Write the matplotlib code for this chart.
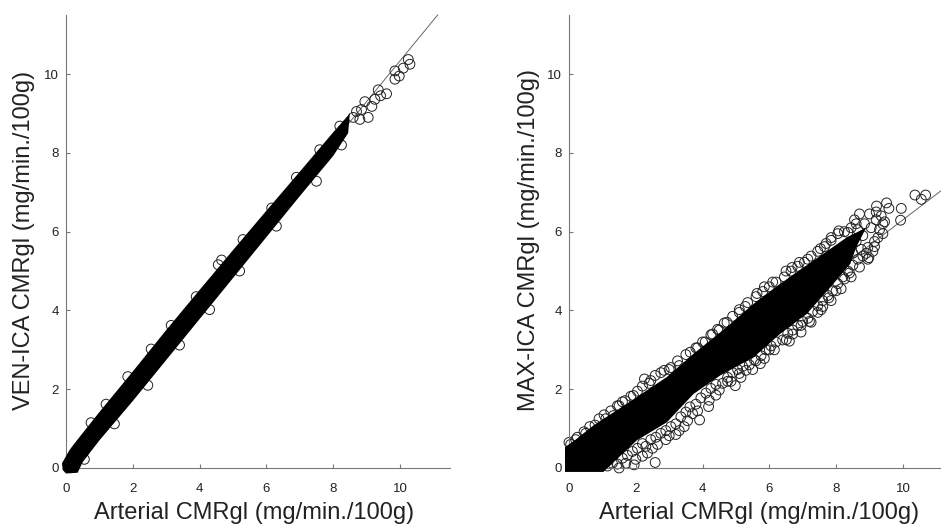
import matplotlib
matplotlib.use('Agg')
import matplotlib.pyplot as plt

plt.rcParams['font.family'] = ['Liberation Sans', 'DejaVu Sans']

ticks = [0, 2, 4, 6, 8, 10]
xlabel = 'Arterial CMRgl (mg/min./100g)'
ylabel_left = 'VEN-ICA CMRgl (mg/min./100g)'
ylabel_right = 'MAX-ICA CMRgl (mg/min./100g)'

# fit lines, read at both ends
line_x_left = [0, 11.13]
line_y_left = [0, 11.5]
line_x_right = [8.5, 11.5]
line_y_right = [5.33, 7.27]

# outline of the solid black part of each cloud
core_x_left = [-0.12, 0.1, 0.25, 1, 2, 3, 4, 5, 6, 7, 8, 8.5, 8.45, 8, 7, 6, 5, 4, 3, 2, 1, 0.5, 0.35, 0.0, -0.1]
core_y_left = [0.12, 0.45, 0.62, 1.42, 2.45, 3.5, 4.52, 5.53, 6.53, 7.52, 8.52, 9.0, 8.5, 7.92, 6.9, 5.86, 4.82, 3.78, 2.74, 1.7, 0.7, 0.15, -0.12, -0.14, -0.05]

core_x_right = [-0.12, -0.12, 0.2, 0.73, 1.73, 2.93, 3.73, 4.73, 5.53, 6.33, 7.33, 8.33, 8.9,
                8.6, 8.43, 7.83, 7.13, 6.33, 5.53, 4.53, 3.73, 2.93, 2.03, 1.03]
core_y_right = [-0.1, 0.53, 0.72, 1.08, 1.63, 2.31, 2.9, 3.58, 4.17, 4.68, 5.27, 5.86, 6.1,
                5.6, 5.19, 4.59, 3.92, 3.41, 2.81, 2.35, 1.88, 1.16, 0.7, -0.1]

# single circles visible around the clouds
pts_x_left = [10.25, 10.3, 10.1, 9.85, 9.85, 9.98, 9.35, 9.6, 9.25, 9.42, 8.85, 9.05, 9.16, 8.95, 8.7, 8.8, 8.6,
              0.75, 1.2, 1.85, 2.55, 3.15, 3.9, 4.66, 4.56, 5.3, 6.16, 6.9, 7.6, 8.2,
              0.55, 1.45, 2.45, 3.4, 4.3, 5.2, 6.3, 7.5, 8.25]
pts_y_left = [10.37, 10.25, 10.15, 10.08, 9.87, 9.95, 9.6, 9.5, 9.36, 9.45, 9.1, 8.9, 9.18, 9.3, 9.05, 8.85, 8.9,
              1.15, 1.62, 2.32, 3.02, 3.62, 4.35, 5.28, 5.16, 5.8, 6.6, 7.38, 8.08, 8.68,
              0.22, 1.12, 2.1, 3.12, 4.02, 5.0, 6.14, 7.28, 8.2]

pts_x_right = [2.58, 1.95, 2.2, 1.7, 3.91, 3.2, 3.45, 2.9, 2.5, 4.18, 4.4, 3.7, 4.98, 4.75, 5.3, 5.73, 5.55, 5.1,
               6.0, 6.51, 6.7, 6.95, 7.2, 7.45, 7.78, 7.6, 8.0, 8.25, 8.4, 8.98, 9.15, 9.93, 9.95, 10.36, 10.55,
               10.68, 9.51, 9.21, 9.58, 9.35, 9.45, 8.08, 8.35, 7.53, 7.7, 7.85, 6.68, 6.5, 6.9, 7.15, 5.63, 5.85,
               6.1, 5.28, 5.1, 4.73, 4.5, 4.3, 4.08, 3.63, 3.85, 3.3, 3.0, 2.58, 2.85, 2.26, 2.4, 1.93, 1.68, 1.5,
               1.33, 1.1, 0.78, 0.5, 0.2, 0.0, 8.55, 8.7, 8.85, 9.0, 9.2, 9.3, 9.4, 8.6, 8.8, 9.05, 9.25, 9.4, 8.95,
               9.15, 8.75, 8.9, 9.1, 8.5, 8.65, 9.2,
               # lower fringe
               1.15, 1.3, 1.45, 1.6, 1.75, 1.9, 2.05, 2.2, 2.3, 2.45, 2.6, 2.75, 2.9, 3.05, 3.2, 3.35, 3.5, 3.62,
               3.8, 3.95, 4.1, 4.25, 4.4, 4.6, 4.75, 4.9, 5.05, 5.2, 5.4, 5.6, 5.75, 5.9, 6.05, 6.2, 6.4, 6.55,
               6.7, 6.85, 7.0, 7.15, 7.3, 7.45, 7.6, 7.75, 7.9, 8.05, 8.2, 8.35, 8.5, 8.65, 8.8,
               # second lower row
               1.5, 2.0, 2.35, 2.65, 3.0, 3.3, 3.55, 3.85, 4.2, 4.5, 4.85, 5.15, 5.5, 5.85, 6.15, 6.6, 6.95, 7.25,
               7.55, 7.85, 8.15, 8.45, 8.7, 8.95,
               # upper fringe
               0.05, 0.25, 0.45, 0.62, 0.9, 1.05, 1.25, 1.45, 1.6, 1.85, 2.05, 2.2, 2.45, 2.75, 3.05, 3.25, 3.5,
               3.8, 4.0, 4.25, 4.45, 4.65, 4.9, 5.1, 5.35, 5.6, 5.8, 6.0, 6.2, 6.45, 6.65, 6.85, 7.05, 7.25, 7.45,
               7.65, 7.85, 8.05, 8.25, 8.45, 8.6]
pts_y_right = [0.14, 0.08, 0.3, 0.12, 1.22, 0.85, 1.05, 0.72, 0.5, 1.56, 1.85, 1.38, 2.09, 2.2, 2.48, 2.65, 2.75,
               2.4, 3.0, 3.26, 3.4, 3.62, 3.72, 3.95, 4.32, 4.1, 4.5, 4.8, 4.95, 5.34, 5.62, 6.29, 6.59, 6.93, 6.82,
               6.93, 6.73, 6.65, 6.59, 6.4, 6.25, 6.02, 5.98, 5.57, 5.7, 5.85, 5.09, 5.0, 5.22, 5.3, 4.43, 4.6, 4.72,
               4.1, 3.95, 3.7, 3.5, 3.4, 3.2, 2.94, 3.05, 2.6, 2.5, 2.35, 2.48, 2.26, 2.15, 1.84, 1.71, 1.58, 1.33,
               1.25, 1.09, 0.88, 0.72, 0.65, 6.3, 6.45, 6.2, 6.45, 6.3, 6.05, 5.95, 5.75, 5.9, 6.1, 5.85, 6.2, 5.6,
               5.75, 5.55, 5.45, 5.5, 5.45, 6.05, 6.5,
               0.05, 0.12, 0.1, 0.25, 0.32, 0.42, 0.5, 0.62, 0.55, 0.72, 0.78, 0.88, 0.95, 1.05, 1.12, 1.3, 1.42, 1.55,
               1.62, 1.78, 1.9, 2.02, 2.12, 2.15, 2.3, 2.42, 2.5, 2.58, 2.62, 2.72, 2.85, 3.0, 3.1, 3.2, 3.25, 3.42,
               3.5, 3.62, 3.72, 3.8, 3.98, 4.12, 4.25, 4.38, 4.5, 4.68, 4.85, 5.0, 5.15, 5.3, 5.38,
               0.0, 0.22, 0.38, 0.6, 0.82, 0.95, 1.2, 1.45, 1.72, 1.98, 2.2, 2.3, 2.5, 2.78, 3.0, 3.22, 3.45, 3.7,
               4.02, 4.25, 4.55, 4.85, 5.1, 5.3,
               0.6, 0.78, 0.92, 1.05, 1.25, 1.35, 1.45, 1.58, 1.68, 1.82, 1.95, 2.08, 2.22, 2.42, 2.55, 2.72, 2.88,
               3.05, 3.2, 3.38, 3.52, 3.68, 3.85, 4.02, 4.2, 4.35, 4.48, 4.6, 4.72, 4.85, 5.0, 5.12, 5.22, 5.38, 5.5,
               5.62, 5.78, 5.95, 6.0, 6.1, 6.2]


def draw_panel(ax, line_x, line_y, core_x, core_y, pts_x, pts_y, ylabel, xlabel_pos, ylabel_pos):
    ax.plot(line_x, line_y, color='#666666', lw=0.7, clip_on=False)
    ax.fill(core_x, core_y, color='black', lw=0, clip_on=False, zorder=3)
    ax.scatter(pts_x, pts_y, s=50, facecolors='none', edgecolors='#222222', linewidths=0.7,
               clip_on=False, zorder=2.5)
    ax.set_xlim(0, 11.5)
    ax.set_ylim(0, 11.5)
    ax.set_xticks(ticks)
    ax.set_yticks(ticks)
    ax.spines['top'].set_visible(False)
    ax.spines['right'].set_visible(False)
    ax.spines['left'].set_color('#777777')
    ax.spines['bottom'].set_color('#777777')
    ax.tick_params(direction='in', length=3, width=0.8, color='#777777', labelcolor='#222222',
                   labelsize=9.5)
    ax.tick_params(axis='x', pad=11)
    ax.tick_params(axis='y', pad=5)
    ax.set_xlabel(xlabel, fontsize=17, color='#222222')
    ax.set_ylabel(ylabel, fontsize=17, color='#222222')
    ax.xaxis.set_label_coords(xlabel_pos, -0.0755)
    ax.yaxis.set_label_coords(ylabel_pos, 0.503)


fig = plt.figure(figsize=(9.41, 5.24), dpi=100)
ax1 = fig.add_axes([66 / 941, 56 / 524, 384 / 941, 453 / 524])
ax2 = fig.add_axes([569 / 941, 56 / 524, 384 / 941, 453 / 524])
draw_panel(ax1, line_x_left, line_y_left, core_x_left, core_y_left, pts_x_left, pts_y_left, ylabel_left, 0.49, -0.08)
draw_panel(ax2, line_x_right, line_y_right, core_x_right, core_y_right, pts_x_right, pts_y_right, ylabel_right, 0.495, -0.075)
fig.savefig('out.png', dpi=100)
